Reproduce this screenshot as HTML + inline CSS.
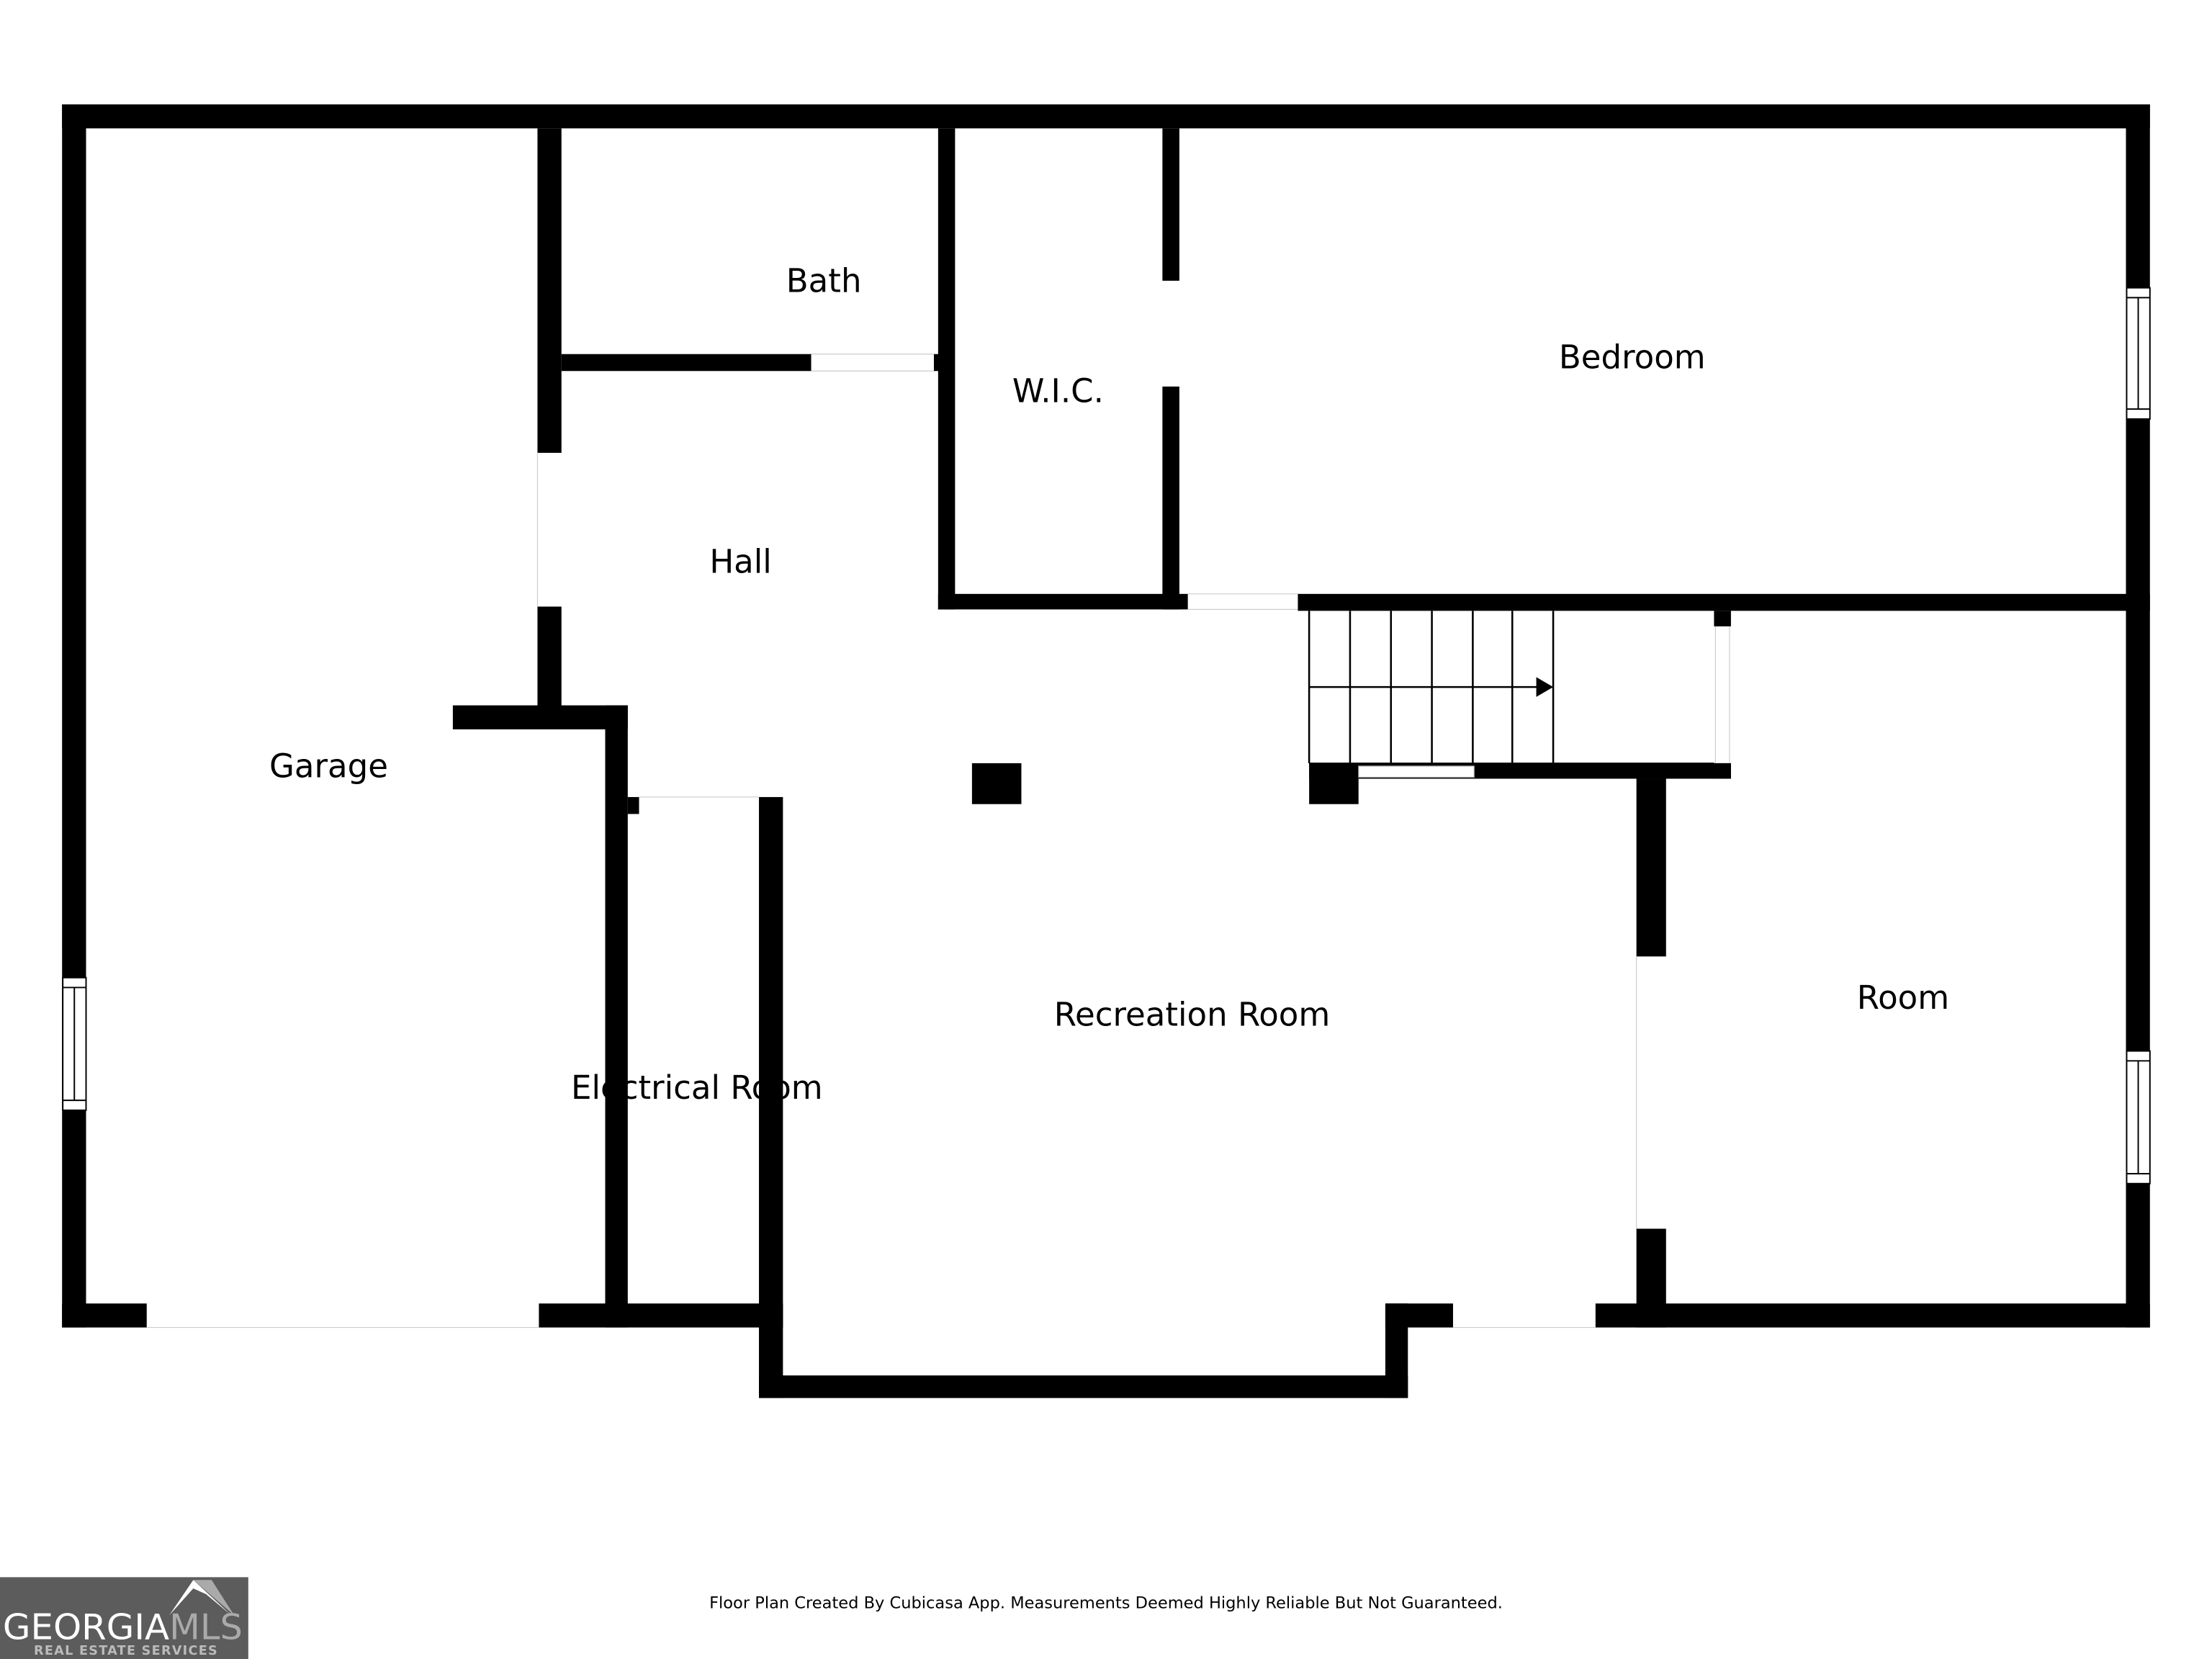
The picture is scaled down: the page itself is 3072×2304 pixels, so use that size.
<!DOCTYPE html>
<html><head><meta charset="utf-8"><style>
html,body{margin:0;padding:0;background:#fff;}
svg{display:block;}
text{font-family:"DejaVu Sans","Liberation Sans",sans-serif;}
</style></head><body>
<svg width="3072" height="2304" viewBox="0 0 1568 1176" xmlns="http://www.w3.org/2000/svg">
<rect width="1568" height="1176" fill="#fff"/>
<g fill="#000">
<!-- outer -->
<rect x="44" y="74" width="1480" height="17"/>
<rect x="44" y="74" width="17" height="867"/>
<rect x="1507" y="74" width="17" height="867"/>
<rect x="44" y="924" width="60" height="17"/>
<rect x="382" y="924" width="173" height="17"/>
<rect x="538" y="924" width="17" height="67"/>
<rect x="538" y="975" width="460" height="16"/>
<rect x="982" y="924" width="16" height="67"/>
<rect x="982" y="924" width="48" height="17"/>
<rect x="1131" y="924" width="393" height="17"/>
<!-- garage/hall -->
<rect x="381" y="91" width="17" height="230"/>
<rect x="381" y="430" width="17" height="80"/>
<rect x="321" y="500" width="124" height="17"/>
<rect x="429" y="500" width="16" height="441"/>
<rect x="538" y="565" width="17" height="376"/>
<rect x="445" y="565" width="8" height="12"/>
<!-- bath -->
<rect x="398" y="251" width="177" height="12"/>
<rect x="662" y="251" width="14" height="12"/>
<!-- wic -->
<rect x="665" y="91" width="12" height="341"/>
<rect x="665" y="421" width="177" height="11"/>
<rect x="824" y="91" width="12" height="108"/>
<rect x="824" y="274" width="12" height="158"/>
<rect x="920" y="421" width="604" height="12"/>
<!-- stairs -->
<rect x="1215" y="433" width="12" height="11"/>
<rect x="1215" y="541" width="12" height="11"/>
<rect x="928" y="541" width="299" height="11"/>
<rect x="928" y="541" width="35" height="29"/>
<rect x="689" y="541" width="35" height="29"/>
<!-- room -->
<rect x="1160" y="552" width="21" height="126"/>
<rect x="1160" y="871" width="21" height="70"/>
</g>
<!-- stair window / openings -->
<rect x="963" y="543" width="82" height="8" fill="#fff" stroke="#999" stroke-width="0.6"/>
<g stroke="#ccc" stroke-width="0.6" fill="none">
<line x1="1216" y1="444" x2="1216" y2="541"/><line x1="1226" y1="444" x2="1226" y2="541"/>
<line x1="842" y1="421" x2="920" y2="421"/><line x1="842" y1="432" x2="920" y2="432"/>
<line x1="575" y1="251" x2="662" y2="251"/><line x1="575" y1="263" x2="662" y2="263"/>
<line x1="453" y1="565" x2="538" y2="565"/>
<line x1="104" y1="941" x2="382" y2="941"/>
<line x1="1030" y1="941" x2="1131" y2="941"/>
<line x1="1160" y1="678" x2="1160" y2="871"/>
<line x1="381" y1="321" x2="381" y2="430"/>
</g>
<!-- stairs treads -->
<g stroke="#000" stroke-width="1.3" fill="none">
<line x1="928" y1="433" x2="928" y2="541"/>
<line x1="957" y1="433" x2="957" y2="541"/>
<line x1="986" y1="433" x2="986" y2="541"/>
<line x1="1015" y1="433" x2="1015" y2="541"/>
<line x1="1044" y1="433" x2="1044" y2="541"/>
<line x1="1072" y1="433" x2="1072" y2="541"/>
<line x1="1101" y1="433" x2="1101" y2="541"/>
<line x1="928" y1="541" x2="1215" y2="541" stroke-width="0.8"/>
<line x1="928" y1="487" x2="1090" y2="487"/>
</g>
<polygon points="1089,480 1101,487 1089,494" fill="#000"/>
<!-- windows -->
<g fill="#fff" stroke="#000" stroke-width="1">
<g id="w"><rect x="1507.5" y="204" width="16.5" height="93"/><line x1="1507.5" y1="211" x2="1524" y2="211"/><line x1="1507.5" y1="290" x2="1524" y2="290"/><line x1="1515.7" y1="211" x2="1515.7" y2="290"/></g>
<rect x="1507.5" y="745" width="16.5" height="94"/><line x1="1507.5" y1="752" x2="1524" y2="752"/><line x1="1507.5" y1="832" x2="1524" y2="832"/><line x1="1515.7" y1="752" x2="1515.7" y2="832"/>
<rect x="44.5" y="693" width="16.5" height="94"/><line x1="44.5" y1="700" x2="61" y2="700"/><line x1="44.5" y1="780" x2="61" y2="780"/><line x1="52.7" y1="700" x2="52.7" y2="780"/>
</g>
<!-- labels -->
<g font-size="23" fill="#000" text-anchor="middle">
<text x="584" y="207">Bath</text>
<text x="750" y="285">W.I.C.</text>
<text x="1157" y="261">Bedroom</text>
<text x="525" y="406">Hall</text>
<text x="233" y="551">Garage</text>
<text x="845" y="727">Recreation Room</text>
<text x="1349" y="715">Room</text>
<text x="494" y="779">Electrical Room</text>
</g>
<text x="784" y="1140" font-size="11.5" text-anchor="middle" fill="#000" font-family="Liberation Sans, sans-serif">Floor Plan Created By Cubicasa App. Measurements Deemed Highly Reliable But Not Guaranteed.</text>
<!-- logo -->
<rect x="0" y="1118" width="176" height="58" fill="#5c5c5c"/>
<polygon points="120,1145 137,1120 164,1145 146,1130 137,1126" fill="#fff"/>
<polygon points="137,1120 150,1120 166,1145" fill="#aaa"/>
<text x="2" y="1162" font-size="25" fill="#fff" font-family="Liberation Sans, sans-serif" textLength="118" lengthAdjust="spacingAndGlyphs">GEORGIA</text>
<text x="120" y="1162" font-size="25" fill="#aaa" font-family="Liberation Sans, sans-serif" textLength="52" lengthAdjust="spacingAndGlyphs">MLS</text>
<text x="24" y="1173" font-size="9" fill="#bbb" font-weight="bold" font-family="Liberation Sans, sans-serif" textLength="130" lengthAdjust="spacing">REAL ESTATE SERVICES</text>
</svg>
</body></html>
